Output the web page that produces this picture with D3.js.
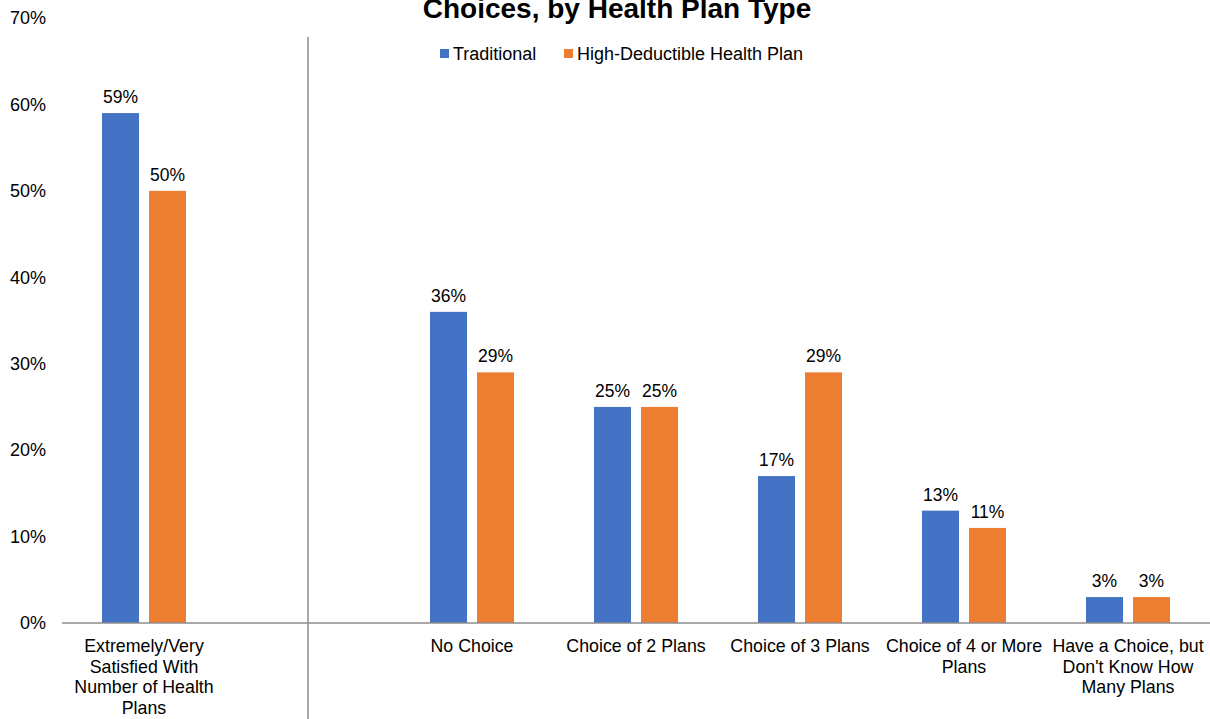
<!DOCTYPE html>
<html><head><meta charset="utf-8">
<script src="https://cdn.jsdelivr.net/npm/d3@7"></script>
<style>body{margin:0;background:#fff;}svg{display:block;font-family:"Liberation Sans",Arial,sans-serif;}</style>
</head><body><svg id="c" width="1210" height="719"></svg>
<script>
const categories = [
  ["Extremely/Very","Satisfied With","Number of Health","Plans"],
  [],
  ["No Choice"],
  ["Choice of 2 Plans"],
  ["Choice of 3 Plans"],
  ["Choice of 4 or More","Plans"],
  ["Have a Choice, but","Don't Know How","Many Plans"]
];
const traditional = [59, null, 36, 25, 17, 13, 3];
const hdhp = [50, null, 29, 25, 29, 11, 3];
const seriesNames = ["Traditional", "High-Deductible Health Plan"];
const colors = ["#4472C4", "#ED7D31"];
const yTicks = [0,10,20,30,40,50,60,70];
const title = "Choices, by Health Plan Type";

const svg = d3.select("#c");
const x = d3.scaleBand().domain(d3.range(categories.length)).range([62,1210]);
const y = d3.scaleLinear().domain([0,70]).range([623,18]);

svg.append("text").attr("x",617).attr("y",18).attr("text-anchor","middle")
  .attr("font-size",28).attr("font-weight","bold").attr("fill","#000").text(title);

// y tick labels
svg.selectAll(".yt").data(yTicks).enter().append("text")
  .attr("x",46).attr("y",d=>y(d)).attr("dy","0.35em").attr("text-anchor","end")
  .attr("font-size",18).attr("fill","#000").text(d=>d+"%");

const bw = 37, gap = 10;
const series = [traditional, hdhp];
series.forEach((vals,si)=>{
  const data = vals.map((v,i)=>({v,i})).filter(d=>d.v!==null);
  const off = si===0 ? -gap/2-bw : gap/2;
  svg.selectAll(".b"+si).data(data).enter().append("rect")
    .attr("x",d=>x(d.i)+x.bandwidth()/2+off).attr("y",d=>y(d.v))
    .attr("width",bw).attr("height",d=>y(0)-y(d.v)).attr("fill",colors[si]);
  svg.selectAll(".l"+si).data(data).enter().append("text")
    .attr("x",d=>x(d.i)+x.bandwidth()/2+off+bw/2).attr("y",d=>y(d.v)-10)
    .attr("text-anchor","middle").attr("font-size",17.5).attr("fill","#000").text(d=>d.v+"%");
});

// axis line
svg.append("line").attr("x1",62).attr("x2",1210).attr("y1",y(0)).attr("y2",y(0))
  .attr("stroke","#8c8c8c").attr("stroke-width",1.5);
// separator
svg.append("line").attr("x1",x(1)+x.bandwidth()/2).attr("x2",x(1)+x.bandwidth()/2)
  .attr("y1",37).attr("y2",719).attr("stroke","#8c8c8c").attr("stroke-width",1.5);

// category labels
categories.forEach((lines,i)=>{
  const t = svg.append("text").attr("x",x(i)+x.bandwidth()/2).attr("y",652)
    .attr("text-anchor","middle").attr("font-size",17.8).attr("fill","#000");
  lines.forEach((ln,k)=>t.append("tspan").attr("x",x(i)+x.bandwidth()/2).attr("dy",k===0?0:20.7).text(ln));
});

// legend
const leg = [{x:440,t:seriesNames[0],c:colors[0]},{x:564,t:seriesNames[1],c:colors[1]}];
leg.forEach(l=>{
  svg.append("rect").attr("x",l.x).attr("y",49).attr("width",9).attr("height",9).attr("fill",l.c);
  svg.append("text").attr("x",l.x+13).attr("y",54).attr("dy","0.35em").attr("font-size",18).attr("fill","#000").text(l.t);
});
</script></body></html>
